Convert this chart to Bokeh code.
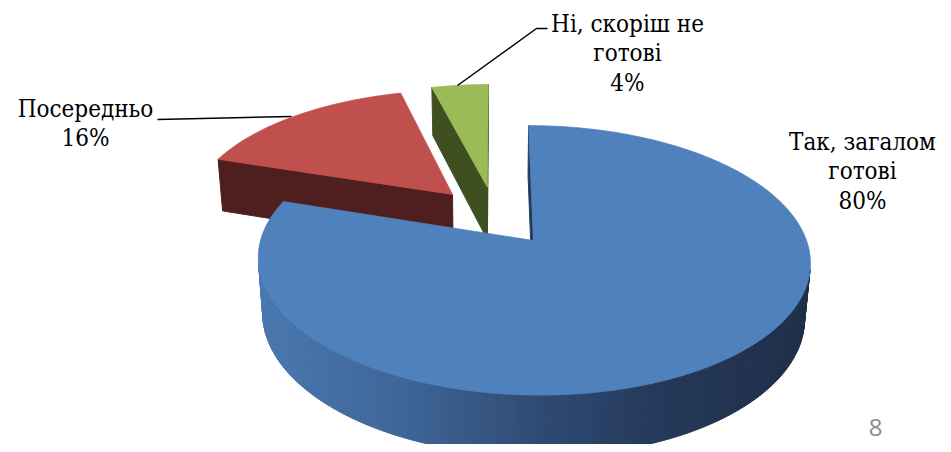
import numpy as np
from bokeh.plotting import figure
from bokeh.models import Range1d, ColumnDataSource
from bokeh.core.properties import value
from bokeh.embed import file_html
from bokeh.resources import INLINE

# ---------------- data ----------------
categories = ["Так, загалом готові", "Посередньо", "Ні, скоріш не готові"]
shares = [80, 16, 4]
label_lines = [["Так, загалом", "готові"], ["Посередньо"], ["Ні, скоріш не", "готові"]]
page_number = "8"

# ---------------- styles / layout ----------------
top_colors = ["#4F81BD", "#C0504D", "#9BBB59"]
side_colors = ["#243B5E", "#4F1F1F", "#3F4F22"]
blue_side_stops_x = [262, 400, 540, 660, 808]
blue_side_stops_c = [(74, 120, 175), (63, 102, 153), (47, 75, 115), (38, 57, 90), (30, 47, 73)]

ELEV = np.radians(28.0)
LDIST = 6.19
FOC = 1643.0
OX, OY = 494.5, 215.2
DEPTH = 0.235
EXPL = 0.24

label_pos = [(862, 141), (85, 108), (627, 23)]   # centre x, first-line baseline
line_gap = 29.5
leader_lines = [None, ([157, 291], [119, 116]), ([547, 536, 457], [28, 28, 85])]
LABEL_FONT = value("DejaVu Serif Condensed")

W, H = 943, 444
p = figure(width=W, height=H, output_backend="svg", toolbar_location=None,
           x_range=Range1d(0, W), y_range=Range1d(H, 0),
           min_border=0, outline_line_color=None, background_fill_color="white",
           border_fill_color="white")
p.axis.visible = False
p.grid.visible = False


def proj(X, Y, Z):
    X = np.asarray(X, float); Y = np.asarray(Y, float); Z = np.asarray(Z, float)
    depth = LDIST - (Y * np.cos(ELEV) + Z * np.sin(ELEV))
    up = Z * np.cos(ELEV) - Y * np.sin(ELEV)
    return OX + FOC * X / depth, OY - FOC * up / depth


cam = np.array([0.0, LDIST * np.cos(ELEV)])


def dirv(t):
    return np.array([np.sin(t), -np.cos(t)])


def lerp_col(x):
    xs = blue_side_stops_x
    cs = np.array(blue_side_stops_c, float)
    r = np.interp(x, xs, cs[:, 0]); g = np.interp(x, xs, cs[:, 1]); b = np.interp(x, xs, cs[:, 2])
    return "#%02x%02x%02x" % (int(r), int(g), int(b))


total = float(sum(shares))
bounds = np.concatenate([[0], np.cumsum(shares)]) / total * 2 * np.pi
slices = []
for i, v in enumerate(shares):
    t1, t2 = bounds[i], bounds[i + 1]
    mid = (t1 + t2) / 2
    C = EXPL * dirv(mid)
    slices.append((i, t1, t2, C))

# paint back slices first
slices.sort(key=lambda s: s[3][1])

for i, t1, t2, C in slices:
    xs, ys, cols = [], [], []
    for t, sgn in ((t1, -1), (t2, 1)):
        n = sgn * np.array([np.cos(t), np.sin(t)])
        if n @ (cam - C) > 0:
            Pp = C + dirv(t)
            X = [C[0], Pp[0], Pp[0], C[0]]
            Y = [C[1], Pp[1], Pp[1], C[1]]
            Z = [0, 0, -DEPTH, -DEPTH]
            sx, sy = proj(X, Y, Z)
            xs.append(list(sx)); ys.append(list(sy)); cols.append(side_colors[i])
    n_seg = max(8, int((t2 - t1) / (2 * np.pi) * 360))
    ts = np.linspace(t1, t2, n_seg + 1)
    for a, b in zip(ts[:-1], ts[1:]):
        m = (a + b) / 2
        nv = dirv(m)
        Pm = C + nv
        if nv @ (cam - Pm) > 0:
            Pa, Pb = C + dirv(a), C + dirv(b)
            X = [Pa[0], Pb[0], Pb[0], Pa[0]]
            Y = [Pa[1], Pb[1], Pb[1], Pa[1]]
            Z = [0, 0, -DEPTH, -DEPTH]
            sx, sy = proj(X, Y, Z)
            xs.append(list(sx)); ys.append(list(sy))
            cols.append(lerp_col(np.mean(sx)) if i == 0 else side_colors[i])
    if xs:
        src = ColumnDataSource(dict(xs=xs, ys=ys, c=cols))
        p.patches("xs", "ys", source=src, fill_color="c", line_color="c", line_width=1)
    ts = np.linspace(t1, t2, max(4, int((t2 - t1) / (2 * np.pi) * 360)) + 1)
    X = [C[0]] + [C[0] + np.sin(t) for t in ts]
    Y = [C[1]] + [C[1] - np.cos(t) for t in ts]
    sx, sy = proj(X, Y, np.zeros(len(X)))
    p.patch(list(sx), list(sy), fill_color=top_colors[i], line_color=top_colors[i], line_width=0.8)

for ll in leader_lines:
    if ll is not None:
        p.line(ll[0], ll[1], line_color="black", line_width=1.5)

tx, ty, tt = [], [], []
for i, lines in enumerate(label_lines):
    cx, by = label_pos[i]
    allines = lines + ["%d%%" % shares[i]]
    for k, s in enumerate(allines):
        tx.append(cx); ty.append(by + k * line_gap); tt.append(s)
p.text(x=tx, y=ty, text=tt, text_align="center", text_baseline="alphabetic",
       text_font=LABEL_FONT, text_font_size="24px", text_color="black")

p.text(x=[875], y=[427], text=[page_number], text_align="center", text_baseline="alphabetic",
       text_font=value("Open Sans"), text_font_size="24px", text_color="#8A8A8A")

open("out.html", "w").write(file_html(p, INLINE))
